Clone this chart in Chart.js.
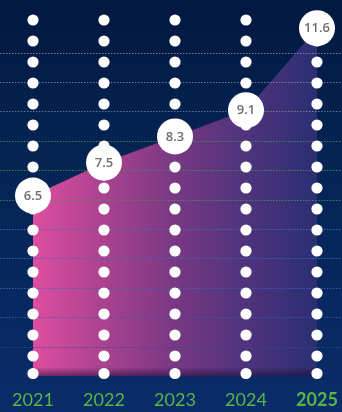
<!DOCTYPE html>
<html>
<head>
<meta charset="utf-8">
<script src="https://cdn.jsdelivr.net/npm/chart.js@4.4.1/dist/chart.umd.min.js"></script>
<style>
  html, body { margin: 0; padding: 0; }
  body { width: 342px; height: 412px; overflow: hidden;
         background: linear-gradient(180deg, #021840 0%, #052352 35%, #0a2c68 100%); }
  canvas { display: block; }
</style>
</head>
<body>
<canvas id="c" width="342" height="412"></canvas>
<script>
// ---- data ----
const years = ['2021', '2022', '2023', '2024', '2025'];
const values = [6.5, 7.5, 8.3, 9.1, 11.6];
const highlightYear = '2025';

// ---- decoration plugin: dotted grid, dot columns, value labels ----
const decor = {
  id: 'decor',
  beforeDatasetDraw(chart, args) {
    if (args.index !== 1) return;
    const ctx = chart.ctx;
    const area = chart.chartArea;
    const x = chart.scales.x;
    const g = chart.scales.g;
    ctx.save();
    // soft shadow at bottom of area
    const sh = ctx.createLinearGradient(0, area.bottom - 9, 0, area.bottom);
    sh.addColorStop(0, 'rgba(20,10,50,0)');
    sh.addColorStop(1, 'rgba(20,10,50,0.55)');
    ctx.fillStyle = sh;
    ctx.fillRect(x.getPixelForValue(0), area.bottom - 9,
                 x.getPixelForValue(years.length - 1) - x.getPixelForValue(0), 9);
    // horizontal dotted grid across full width
    const lg = ctx.createLinearGradient(0, 40, 0, area.bottom);
    lg.addColorStop(0, 'rgba(160,170,190,0.7)');
    lg.addColorStop(0.22, 'rgba(140,160,180,0.65)');
    lg.addColorStop(0.3, 'rgba(60,150,80,0.85)');
    lg.addColorStop(0.5, 'rgba(60,150,80,0.85)');
    lg.addColorStop(0.58, 'rgba(50,110,190,0.9)');
    lg.addColorStop(0.8, 'rgba(50,100,180,0.85)');
    lg.addColorStop(1, 'rgba(40,60,130,0.8)');
    ctx.strokeStyle = lg;
    ctx.lineWidth = 1;
    ctx.setLineDash([1.5, 1.5]);
    g.ticks.forEach(t => {
      if (t.value <= 0 || t.value % 1 !== 0) return;
      const y = Math.round(g.getPixelForValue(t.value)) + 0.5;
      ctx.beginPath();
      ctx.moveTo(0, y);
      ctx.lineTo(chart.width, y);
      ctx.stroke();
    });
    ctx.setLineDash([]);
    // white dot columns
    ctx.fillStyle = '#ffffff';
    years.forEach((_, i) => {
      const px = x.getPixelForValue(i);
      const ys = [];
      for (let y = 20; y < area.bottom - 14; y += 21) ys.push(y);
      ys.push(area.bottom - 2.5);
      ys.forEach(y => {
        ctx.beginPath();
        ctx.arc(px, y, 5.6, 0, Math.PI * 2);
        ctx.fill();
      });
    });
    ctx.restore();
  },
  afterDatasetsDraw(chart) {
    const ctx = chart.ctx;
    const meta = chart.getDatasetMeta(1);
    ctx.save();
    ctx.fillStyle = '#6e6e6e';
    ctx.font = '600 13px "Open Sans", Lato, sans-serif';
    ctx.textAlign = 'center';
    ctx.textBaseline = 'middle';
    meta.data.forEach((pt, i) => {
      ctx.fillText(String(values[i]), pt.x, pt.y + 0.5);
    });
    ctx.restore();
  }
};

const ctx = document.getElementById('c').getContext('2d');
new Chart(ctx, {
  type: 'line',
  data: {
    labels: years,
    datasets: [
      {
        data: values,
        order: 2,
        borderWidth: 0,
        pointRadius: 0,
        fill: 'start',
        tension: 0,
        backgroundColor(c) {
          const a = c.chart.chartArea;
          if (!a) return '#8a3a86';
          const xs = c.chart.scales.x;
          const x0 = xs.getPixelForValue(0), x1 = xs.getPixelForValue(years.length - 1);
          const gr = c.chart.ctx.createLinearGradient(x0, 0, x1, 0);
          gr.addColorStop(0, '#de4ea0');
          gr.addColorStop(0.25, '#aa428f');
          gr.addColorStop(0.5, '#783883');
          gr.addColorStop(0.75, '#4e337c');
          gr.addColorStop(1, '#2c2e72');
          return gr;
        }
      },
      {
        data: values,
        order: 1,
        showLine: false,
        pointRadius: 18,
        pointHoverRadius: 18,
        pointBackgroundColor: '#ffffff',
        pointBorderWidth: 0,
        clip: false
      }
    ]
  },
  options: {
    responsive: false,
    animation: false,
    events: [],
    layout: { padding: { left: 33, right: 25, top: 38, bottom: 0 } },
    plugins: { legend: { display: false }, tooltip: { enabled: false } },
    scales: {
      x: {
        offset: false,
        grid: { display: false, drawTicks: false },
        border: { display: false },
        afterFit(s) { s.paddingLeft = 0; s.paddingRight = 0; s.height = 36; },
        ticks: {
          color: '#58b548',
          padding: 13,
          maxRotation: 0,
          autoSkip: false,
          font(c) {
            return {
              family: 'Lato, "Open Sans", sans-serif',
              size: 18,
              weight: years[c.index] === highlightYear ? 'bold' : 'normal'
            };
          }
        }
      },
      y: { display: false, min: 1, max: 11.3 },
      g: { display: false, position: 'right', min: 0, max: 11.5, ticks: { stepSize: 1 } }
    }
  },
  plugins: [decor]
});
</script>
</body>
</html>
